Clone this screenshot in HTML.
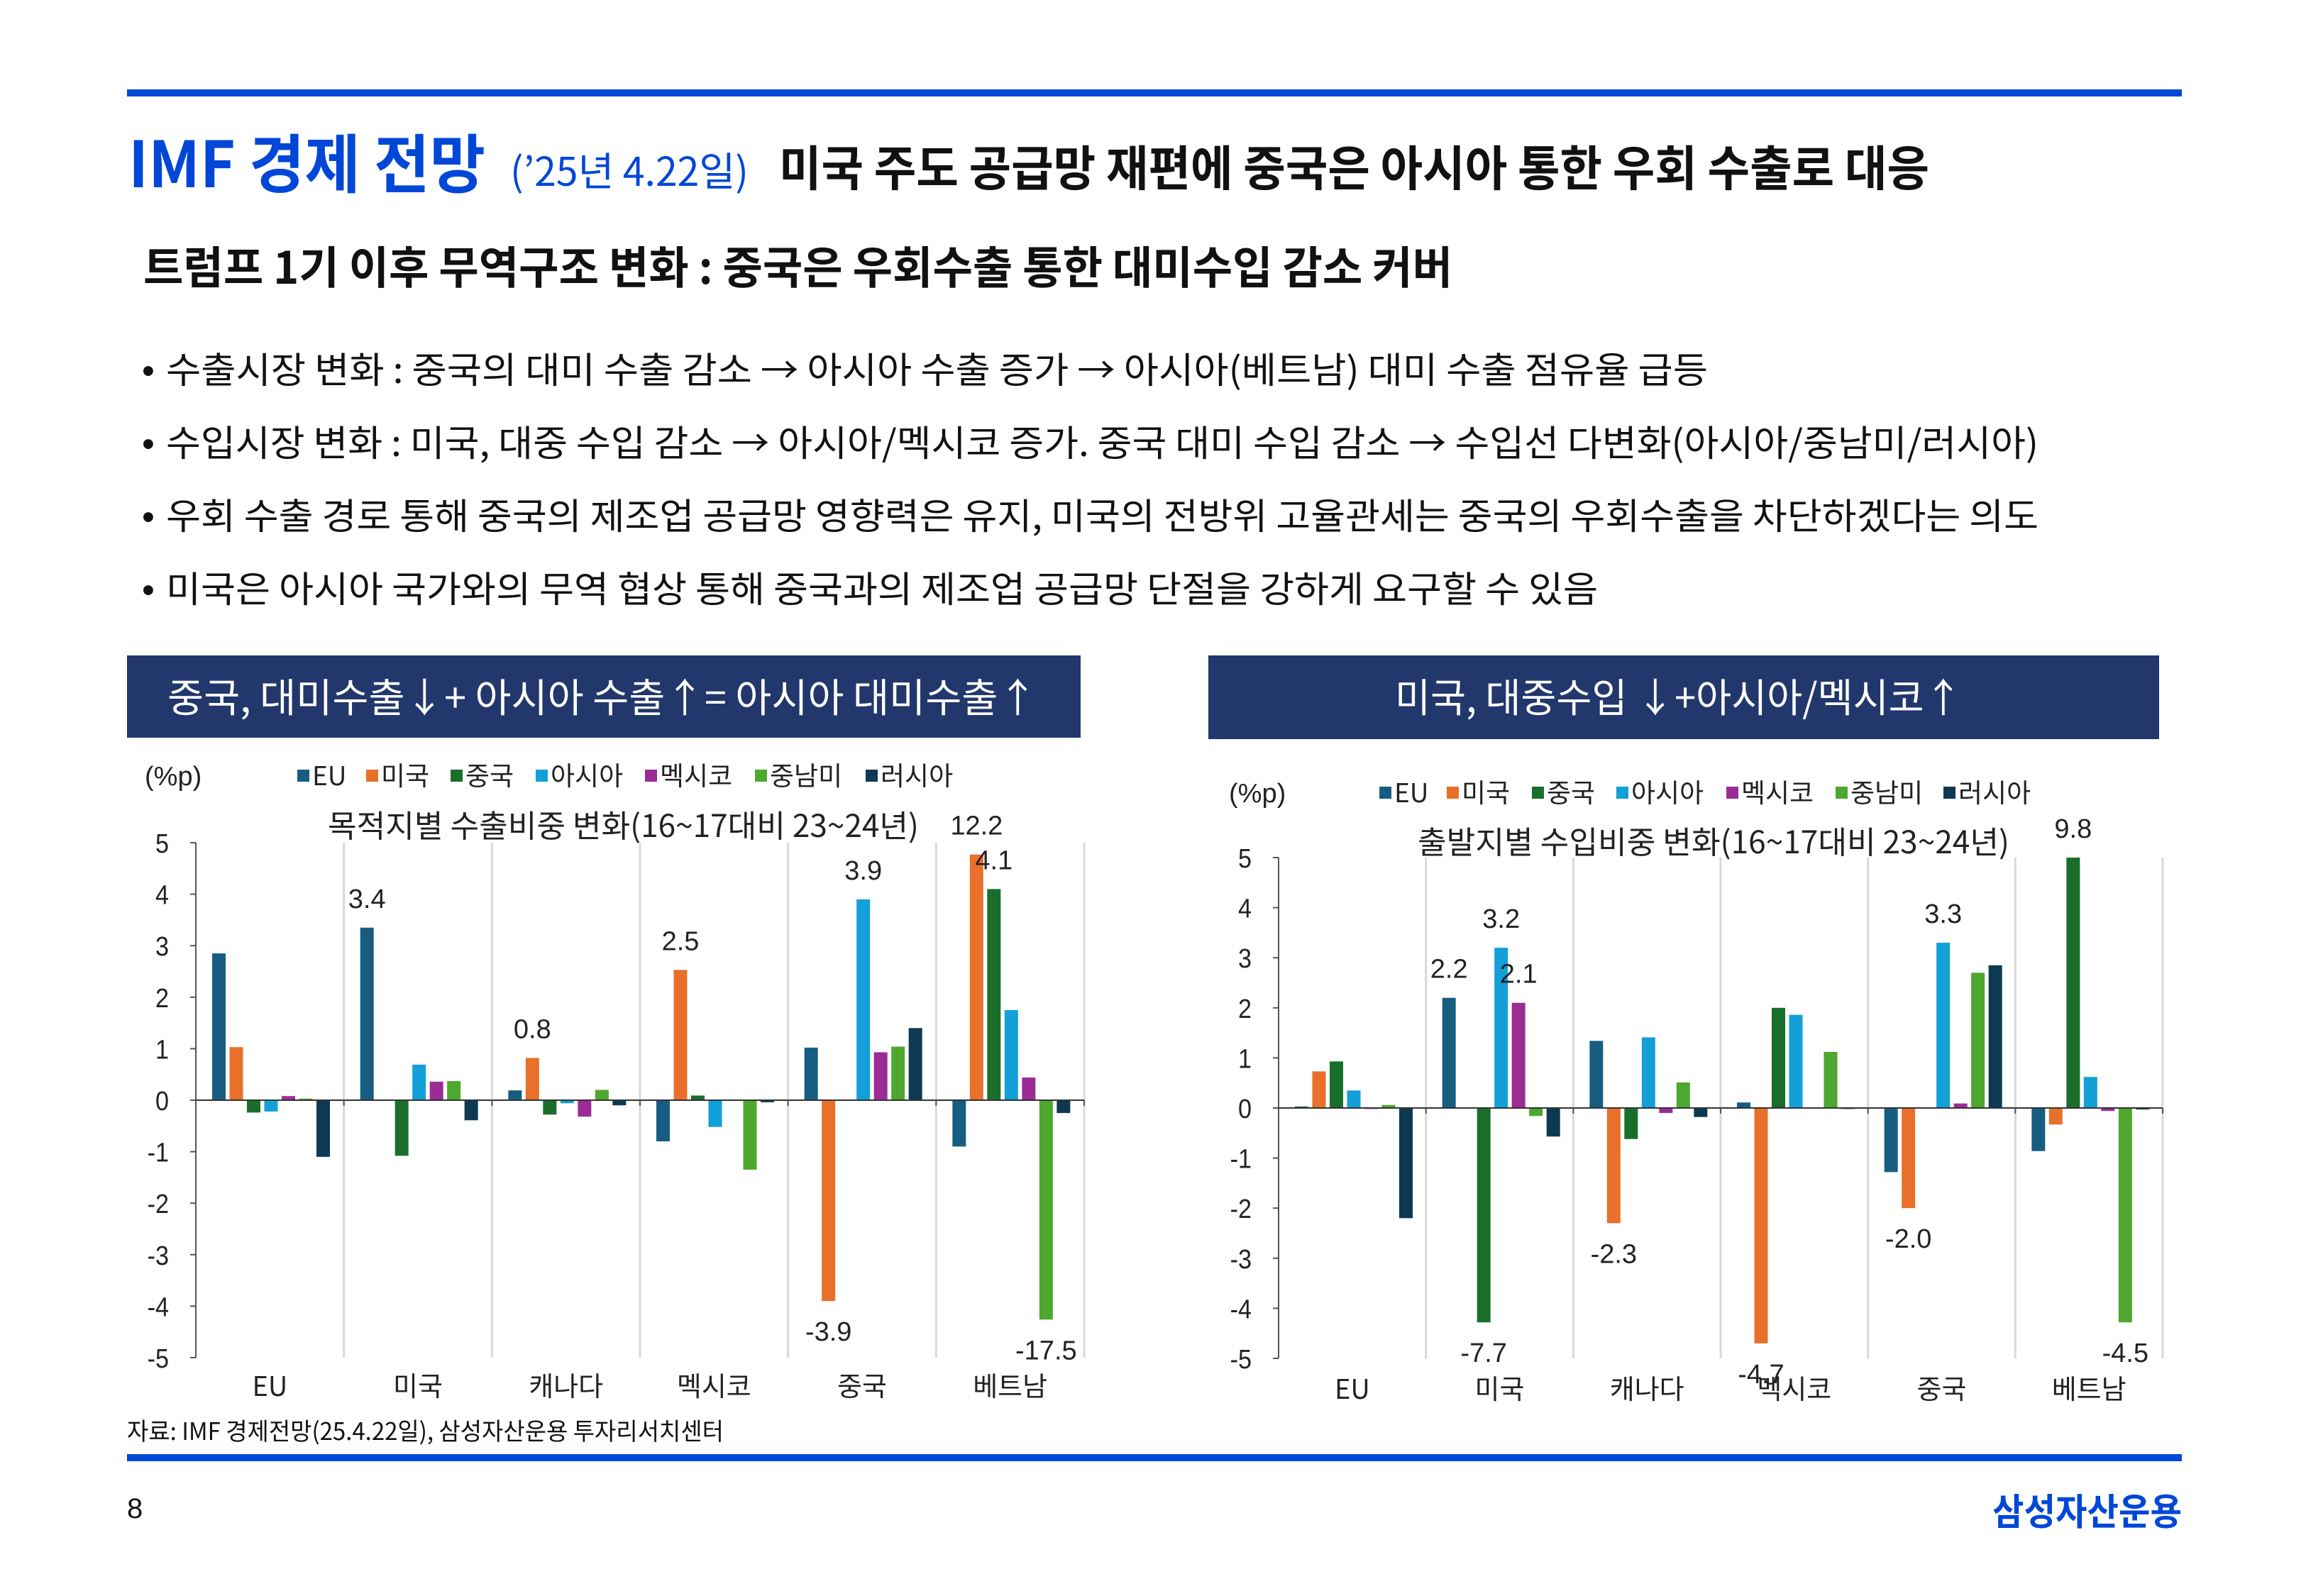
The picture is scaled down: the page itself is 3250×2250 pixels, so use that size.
<!DOCTYPE html>
<html><head><meta charset="utf-8"><style>
html,body{margin:0;padding:0;background:#fff;}
svg{display:block;}
text{font-family:"Liberation Sans","Noto Sans CJK KR",sans-serif;}
.k{font-family:"Noto Sans CJK KR","Liberation Sans",sans-serif;}
</style></head><body>
<svg id="page" width="3250" height="2250" viewBox="0 0 3250 2250" xmlns="http://www.w3.org/2000/svg">
<rect x="179" y="126" width="2896" height="10" fill="#0047d8"/>
<text class="k" x="181" y="264" font-size="90" font-weight="bold" fill="#0047d8" textLength="503" lengthAdjust="spacingAndGlyphs">IMF 경제 전망</text>
<text class="k" x="719" y="262" font-size="56" fill="#0047d8" textLength="336" lengthAdjust="spacingAndGlyphs">(’25년 4.22일)</text>
<text class="k" x="1098" y="262" font-size="68" font-weight="bold" fill="#111" textLength="1621" lengthAdjust="spacingAndGlyphs">미국 주도 공급망 재편에 중국은 아시아 통한 우회 수출로 대응</text>
<text class="k" x="202" y="400" font-size="63" font-weight="bold" fill="#111" textLength="1845" lengthAdjust="spacingAndGlyphs">트럼프 1기 이후 무역구조 변화 : 중국은 우회수출 통한 대미수입 감소 커버</text>
<g class="k" font-size="51" fill="#111">
<text x="200" y="540">•</text>
<text class="k" x="234" y="540" textLength="2173" lengthAdjust="spacingAndGlyphs">수출시장 변화 : 중국의 대미 수출 감소 → 아시아 수출 증가 →  아시아(베트남) 대미 수출 점유율 급등</text>
<text x="200" y="643">•</text>
<text class="k" x="234" y="643" textLength="2639" lengthAdjust="spacingAndGlyphs">수입시장 변화 : 미국, 대중 수입 감소 → 아시아/멕시코 증가. 중국 대미 수입 감소 → 수입선 다변화(아시아/중남미/러시아)</text>
<text x="200" y="746">•</text>
<text class="k" x="234" y="746" textLength="2639" lengthAdjust="spacingAndGlyphs">우회 수출 경로 통해 중국의 제조업 공급망 영향력은 유지, 미국의 전방위 고율관세는 중국의 우회수출을 차단하겠다는 의도</text>
<text x="200" y="849">•</text>
<text class="k" x="234" y="849" textLength="2018" lengthAdjust="spacingAndGlyphs">미국은 아시아 국가와의 무역 협상 통해 중국과의 제조업 공급망 단절을 강하게 요구할 수 있음</text>
</g>
<rect x="179" y="924" width="1344" height="116" fill="#22376b"/>
<text class="k" x="236" y="1004" font-size="56" fill="#fff" textLength="1226" lengthAdjust="spacingAndGlyphs">중국, 대미수출↓+ 아시아 수출↑= 아시아 대미수출↑</text>
<rect x="1703" y="924" width="1340" height="118" fill="#22376b"/>
<text class="k" x="1966" y="1004" font-size="56" fill="#fff" textLength="800" lengthAdjust="spacingAndGlyphs">미국, 대중수입 ↓+아시아/멕시코↑</text>
<g id="chart1"></g>
<g id="chart2"></g>
<text class="k" x="179" y="2030" font-size="34" fill="#111" textLength="841" lengthAdjust="spacingAndGlyphs">자료: IMF 경제전망(25.4.22일), 삼성자산운용 투자리서치센터</text>
<rect x="179" y="2050" width="2896" height="10" fill="#0047d8"/>
<text x="179" y="2140" font-size="40" fill="#111">8</text>
<text class="k" x="2808" y="2150" font-size="52" font-weight="bold" fill="#0047d8" textLength="267" lengthAdjust="spacingAndGlyphs">삼성자산운용</text>
</svg>
<script>
const categories = ["EU","미국","캐나다","멕시코","중국","베트남"];
const seriesNames = ["EU","미국","중국","아시아","멕시코","중남미","러시아"];
const seriesColors = ["#175d82","#e8702a","#1a6e2b","#13a0d8","#9b2c96","#4ea72e","#0d3a52"];
const yTicks = [5,4,3,2,1,0,-1,-2,-3,-4,-5];
const exportEU = [2.85,1.03,-0.24,-0.22,0.08,0.03,-1.1];
const exportUS = [3.35,0,-1.08,0.69,0.36,0.37,-0.39];
const exportCA = [0.19,0.82,-0.28,-0.06,-0.32,0.2,-0.1];
const exportMX = [-0.8,2.53,0.09,-0.52,0,-1.35,-0.04];
const exportCN = [1.02,-3.9,0,3.9,0.93,1.04,1.4];
const exportVN = [-0.9,12.2,4.1,1.75,0.44,-17.5,-0.25];
const exportLabels = [[1,0],[2,1],[3,1],[4,3],[4,1],[5,1],[5,2],[5,5]];
const importEU = [0.03,0.73,0.93,0.35,-0.02,0.06,-2.2];
const importUS = [2.2,0,-7.7,3.2,2.1,-0.16,-0.57];
const importCA = [1.34,-2.3,-0.62,1.41,-0.1,0.51,-0.18];
const importMX = [0.11,-4.7,2.0,1.86,0,1.12,-0.02];
const importCN = [-1.28,-2.0,0,3.3,0.09,2.7,2.85];
const importVN = [-0.86,-0.33,9.8,0.62,-0.06,-4.5,-0.03];
const importLabels = [[1,0],[1,3],[1,4],[1,2],[2,1],[3,1],[4,3],[4,1],[5,2],[5,5]];

const NS="http://www.w3.org/2000/svg";
function mk(parent,tag,attrs,txt){const e=document.createElementNS(NS,tag);for(const k in attrs)e.setAttribute(k,attrs[k]);if(txt!==undefined)e.textContent=txt;parent.appendChild(e);return e;}

function drawChart(g,cfg,rows,labels){
  const y=v=>cfg.zeroY-(v*cfg.unit);
  const gw=(cfg.right-cfg.left)/categories.length;
  const x=(ci,si)=>cfg.left+ci*gw+23+si*24.5;
  const clip=v=>v>5?cfg.hiClip:((v<-5||v===-4.5)?cfg.loClip:v);
  for(let i=1;i<=categories.length;i++){
    const l=mk(g,'line',{x1:cfg.left+i*gw,x2:cfg.left+i*gw,y1:y(5),y2:y(-5),stroke:'#d9d9d9','stroke-width':3});
    
    
  }
  yTicks.forEach(t=>{
    const tl=mk(g,'text',{x:cfg.left-38,y:y(t)+14,'font-size':38,'text-anchor':'end',fill:'#222',transform:'translate('+(cfg.left-38)+',0) scale(0.9,1) translate('+(-(cfg.left-38))+',0)'},String(t));
    
    
    mk(g,'line',{x1:cfg.left-8,x2:cfg.left,y1:y(t),y2:y(t),stroke:'#555','stroke-width':2});
  });
  rows.forEach((row,ci)=>{
    row.forEach((v,si)=>{
      if(v===0)return;
      const cv=clip(v);
      const r=mk(g,'rect',{x:x(ci,si),y:Math.min(y(0),y(cv)),width:19,height:Math.abs(y(cv)-y(0)),fill:seriesColors[si]});
      
      
    });
  });
  const ya=mk(g,'line',{x1:cfg.left,x2:cfg.left,y1:y(5),y2:y(-5),stroke:'#555','stroke-width':2});
  
  
  const xa=mk(g,'line',{x1:cfg.left,x2:cfg.right,y1:y(0),y2:y(0),stroke:'#333','stroke-width':2});
  
  
  for(let i=0;i<=categories.length;i++) mk(g,'line',{x1:cfg.left+i*gw,x2:cfg.left+i*gw,y1:y(0),y2:y(0)+8,stroke:'#555','stroke-width':2});
  categories.forEach((c,ci)=>{
    const t=mk(g,'text',{class:'k',x:cfg.left+ci*gw+gw/2,y:cfg.catY,'font-size':38,'text-anchor':'middle',fill:'#222'},c);
    
    
  });
  labels.forEach(([ci,si])=>{
    const v=rows[ci][si];const cv=clip(v);
    const ly=v>=0?y(cv)-28:y(cv)+56;
    const t=mk(g,'text',{x:x(ci,si)+9.5,y:ly,'font-size':38,'text-anchor':'middle',fill:'#222'},v.toFixed(1));
    
    
  });
  const u=mk(g,'text',{x:cfg.unitX,y:cfg.legendY+13,'font-size':38,fill:'#222'},'(%p)');
  
  
  seriesNames.forEach((n,si)=>{
    const lx=cfg.legendX[si];
    const sq=mk(g,'rect',{x:lx,y:cfg.legendY-9,width:17,height:17,fill:seriesColors[si]});
    
    
    const t=mk(g,'text',{class:'k',x:lx+21,y:cfg.legendY+13,'font-size':37,fill:'#222'},n);
    
    
  });
  const tt=mk(g,'text',{class:'k',x:cfg.titleX,y:cfg.titleY+15,'font-size':44,fill:'#222',textLength:cfg.titleW,lengthAdjust:'spacingAndGlyphs'},cfg.title);
  
  
}
drawChart(document.getElementById('chart1'),{left:276,right:1528,zeroY:1551,unit:72.6,hiClip:4.77,loClip:-4.26,catY:1968,unitX:204,legendY:1094,
  legendX:[419,516,635,755,909,1064,1220],titleX:462,titleY:1165,titleW:833,title:'목적지별 수출비중 변화(16~17대비 23~24년)'},
  [exportEU,exportUS,exportCA,exportMX,exportCN,exportVN],exportLabels);
drawChart(document.getElementById('chart2'),{left:1802,right:3048,zeroY:1562,unit:70.6,hiClip:5,loClip:-4.28,catY:1972,unitX:1732,legendY:1118,
  legendX:[1944,2039,2159,2278,2433,2587,2739],titleX:1998,titleY:1188,titleW:834,title:'출발지별 수입비중 변화(16~17대비 23~24년)'},
  [importEU,importUS,importCA,importMX,importCN,importVN],importLabels);
</script>
</body></html>
